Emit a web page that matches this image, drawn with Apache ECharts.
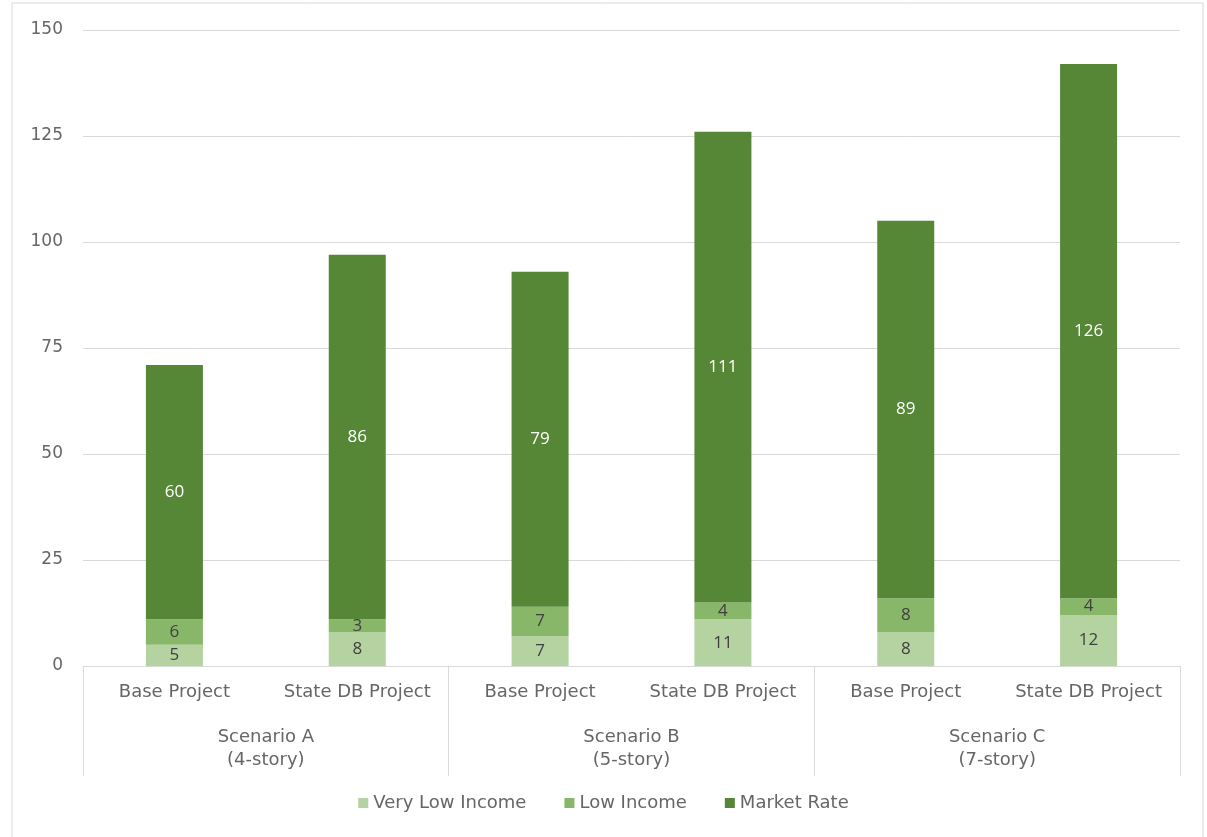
<!DOCTYPE html>
<html>
<head>
<meta charset="utf-8">
<script src="https://cdn.jsdelivr.net/npm/echarts@6/dist/echarts.min.js"></script>
<style>
html,body{margin:0;padding:0;background:#fff;}
#chart{width:1207px;height:837px;}
</style>
</head>
<body>
<div id="chart"></div>
<script>
var categories = ['Base Project', 'State DB Project', 'Base Project', 'State DB Project', 'Base Project', 'State DB Project'];
var scenarios = ['Scenario A\n(4-story)', 'Scenario B\n(5-story)', 'Scenario C\n(7-story)'];
var veryLowIncome = [5, 8, 7, 11, 8, 12];
var lowIncome = [6, 3, 7, 4, 8, 4];
var marketRate = [60, 86, 79, 111, 89, 126];
var seriesNames = ['Very Low Income', 'Low Income', 'Market Rate'];

var chart = echarts.init(document.getElementById('chart'));
var axisFont = '"DejaVu Sans", sans-serif';
var labelFont = '"Open Sans", "Liberation Sans", sans-serif';
var gray = '#666666';

function mkSeries(name, data, color, labelColor) {
  return {
    name: name,
    type: 'bar',
    stack: 'total',
    xAxisIndex: 0,
    data: data,
    barWidth: 57,
    itemStyle: { color: color },
    label: {
      show: true,
      position: 'inside',
      color: labelColor,
      fontFamily: labelFont,
      fontSize: 17
    }
  };
}

chart.setOption({
  animation: false,
  backgroundColor: '#fff',
  graphic: [{
    type: 'rect',
    shape: { x: 12, y: 3, width: 1191, height: 850 },
    style: { fill: 'none', stroke: '#d9d9d9', lineWidth: 1 },
    silent: true
  }],
  grid: { left: 83, right: 27, top: 30, bottom: 171, containLabel: false },
  legend: {
    bottom: 20,
    left: 'center',
    icon: 'rect',
    itemWidth: 10,
    itemHeight: 10,
    itemGap: 38,
    itemStyle: { borderWidth: 0 },
    data: seriesNames,
    textStyle: { color: gray, fontFamily: axisFont, fontSize: 18 }
  },
  xAxis: [{
    type: 'category',
    data: categories,
    position: 'bottom',
    axisLine: { show: true, lineStyle: { color: '#d9d9d9', width: 1 } },
    axisTick: { show: false },
    axisLabel: { color: gray, fontFamily: axisFont, fontSize: 18, margin: 17, interval: 0 }
  }, {
    type: 'category',
    data: scenarios,
    position: 'bottom',
    axisLine: { show: false },
    axisTick: { show: true, length: 110, lineStyle: { color: '#d9d9d9', width: 1 } },
    axisLabel: { color: gray, fontFamily: axisFont, fontSize: 18, margin: 60, lineHeight: 23, interval: 0 },
    splitLine: { show: false }
  }],
  yAxis: {
    type: 'value',
    min: 0,
    max: 150,
    interval: 25,
    axisLine: { show: false },
    axisTick: { show: false },
    axisLabel: { color: gray, fontFamily: axisFont, fontSize: 17, margin: 20 },
    splitLine: { lineStyle: { color: '#d9d9d9', width: 1 } }
  },
  series: [
    mkSeries(seriesNames[0], veryLowIncome, '#b4d3a0', '#404040'),
    mkSeries(seriesNames[1], lowIncome, '#88b76a', '#404040'),
    mkSeries(seriesNames[2], marketRate, '#558736', '#ffffff')
  ]
});
</script>
</body>
</html>
